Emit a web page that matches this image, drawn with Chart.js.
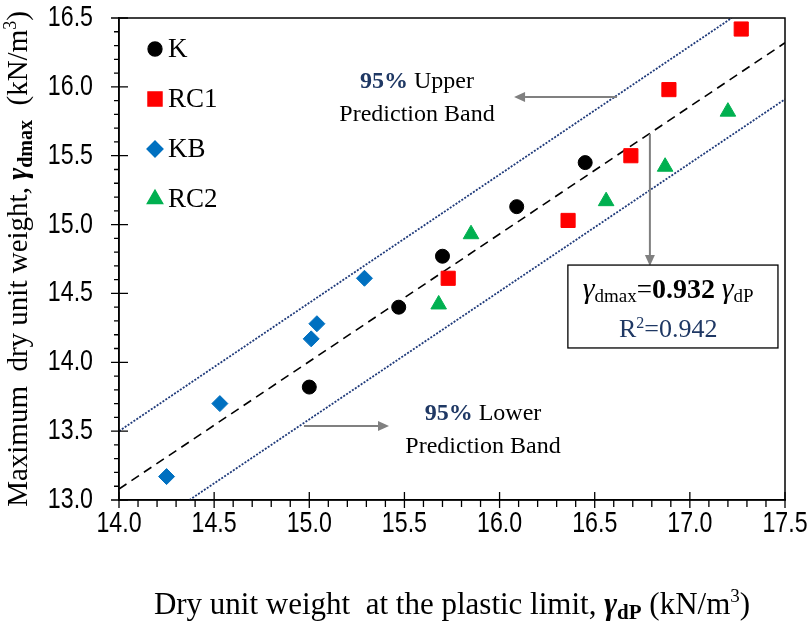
<!DOCTYPE html>
<html>
<head>
<meta charset="utf-8">
<script src="https://cdn.jsdelivr.net/npm/chart.js@4.4.0/dist/chart.umd.min.js"></script>
<style>
html, body { margin: 0; padding: 0; background: #fff; }
</style>
</head>
<body>
<canvas id="myChart" width="810" height="622"></canvas>
<script>
// measured points (kN/m3)
var xK   = [15.00, 15.47, 15.70, 16.09, 16.45];
var yK   = [13.82, 14.40, 14.77, 15.13, 15.45];
var xRC1 = [15.73, 16.36, 16.69, 16.89, 17.27];
var yRC1 = [14.61, 15.03, 15.50, 15.98, 16.42];
var xKB  = [14.25, 14.53, 15.01, 15.04, 15.29];
var yKB  = [13.17, 13.70, 14.17, 14.28, 14.61];
var xRC2 = [15.68, 15.85, 16.56, 16.87, 17.20];
var yRC2 = [14.42, 14.93, 15.17, 15.42, 15.82];

// fit line and 95% prediction bands (end points)
var xFit   = [14.00, 17.50];
var yFit   = [13.08, 16.32];
var xUpper = [14.00, 17.22];
var yUpper = [13.50, 16.50];
var xLower = [14.37, 17.50];
var yLower = [13.00, 15.91];

var xMin = 14.0, xMax = 17.5;
var yMin = 13.0, yMax = 16.5;

var SERIF = '"Liberation Serif", "Times New Roman", serif';
var SANS = '"Liberation Sans", Arial, sans-serif';
var NAVY = '#1F3864';

function pts(xs, ys) {
	var out = [];
	for (var i = 0; i < xs.length; i++) out.push({x: xs[i], y: ys[i]});
	return out;
}

function drawRuns(c, runs, cx, by) {
	var total = 0, i;
	for (i = 0; i < runs.length; i++) {
		c.font = runs[i].f;
		runs[i].w = c.measureText(runs[i].t).width;
		total += runs[i].w;
	}
	var x = cx - total / 2;
	c.textAlign = 'left';
	c.textBaseline = 'alphabetic';
	for (i = 0; i < runs.length; i++) {
		c.font = runs[i].f;
		c.fillStyle = runs[i].c || '#000';
		c.fillText(runs[i].t, x, by + (runs[i].dy || 0));
		x += runs[i].w;
	}
}

// narrow tick label: Arial squeezed to 80%
function narrowText(c, txt, x, y, align) {
	c.save();
	c.font = '29px ' + SANS;
	c.textAlign = align;
	c.textBaseline = 'middle';
	c.fillStyle = '#000';
	c.translate(x, y);
	c.scale(0.8, 1);
	c.fillText(txt, 0, 0);
	c.restore();
}

function arrow(c, x1, y1, x2, y2) {
	var ang = Math.atan2(y2 - y1, x2 - x1), L = 11, W = 5;
	c.beginPath();
	c.moveTo(x1, y1);
	c.lineTo(x2 - Math.cos(ang) * L, y2 - Math.sin(ang) * L);
	c.stroke();
	c.beginPath();
	c.moveTo(x2, y2);
	c.lineTo(x2 - Math.cos(ang) * L - Math.sin(ang) * W, y2 - Math.sin(ang) * L + Math.cos(ang) * W);
	c.lineTo(x2 - Math.cos(ang) * L + Math.sin(ang) * W, y2 - Math.sin(ang) * L - Math.cos(ang) * W);
	c.closePath();
	c.fill();
}

var decor = {
	id: 'decor',
	afterDraw: function(chart) {
		var c = chart.ctx, a = chart.chartArea;
		var xs = chart.scales.x, ys = chart.scales.y;
		var X = function(v) { return xs.getPixelForValue(v); };
		var Y = function(v) { return ys.getPixelForValue(v); };
		c.save();

		// frame
		c.strokeStyle = '#000';
		c.lineWidth = 1.5;
		c.strokeRect(a.left, a.top, a.right - a.left, a.bottom - a.top);

		// tick marks, 0.1 minor / 0.5 major
		c.lineWidth = 1.3;
		c.beginPath();
		for (var i = 0; i <= 35; i++) {
			var major = (i % 5 === 0);
			var px = X(xMin + i * 0.1);
			c.moveTo(px, a.bottom + (major ? 8 : 7));
			c.lineTo(px, a.bottom - (major ? 8 : 0));
			var py = Y(yMin + i * 0.1);
			c.moveTo(a.left - (major ? 8 : 5), py);
			c.lineTo(a.left + (major ? 9 : 0), py);
		}
		c.stroke();

		// tick labels from the scales' own ticks
		xs.ticks.forEach(function(t) {
			narrowText(c, t.value.toFixed(1), X(t.value), a.bottom + 24, 'center');
		});
		ys.ticks.forEach(function(t) {
			narrowText(c, t.value.toFixed(1), a.left - 26, Y(t.value), 'right');
		});

		// legend
		var sets = chart.data.datasets;
		for (var k = 0; k < 4; k++) {
			var ds = sets[k];
			var ly = a.top + 31 + k * 50;
			c.fillStyle = ds.backgroundColor;
			c.strokeStyle = ds.backgroundColor;
			Chart.helpers.drawPoint(c, {pointStyle: ds.pointStyle, radius: ds.pointRadius, rotation: 0, borderWidth: 1}, a.left + 36, ly);
			c.fillStyle = '#000';
			c.font = '27px ' + SERIF;
			c.textAlign = 'left';
			c.textBaseline = 'middle';
			c.fillText(ds.label, a.left + 49, ly + 1);
		}

		// prediction band notes
		c.strokeStyle = '#808080';
		c.fillStyle = '#808080';
		c.lineWidth = 2;
		arrow(c, X(16.617), Y(15.926), X(16.076), Y(15.926));
		arrow(c, X(14.972), Y(13.537), X(15.419), Y(13.537));
		arrow(c, X(16.790), Y(15.658), X(16.790), Y(14.699));

		var b24 = 'bold 24px ' + SERIF, r24 = '24px ' + SERIF;
		drawRuns(c, [{t: '95%', f: b24, c: NAVY}, {t: ' Upper', f: r24}], X(15.566), Y(15.992));
		drawRuns(c, [{t: 'Prediction Band', f: r24}], X(15.566), Y(15.752));
		drawRuns(c, [{t: '95%', f: b24, c: NAVY}, {t: ' Lower', f: r24}], X(15.913), Y(13.581));
		drawRuns(c, [{t: 'Prediction Band', f: r24}], X(15.913), Y(13.341));

		// equation box
		var bl = X(16.359), br = X(17.463), bt = Y(14.706), bb = Y(14.104);
		c.fillStyle = '#fff';
		c.fillRect(bl, bt, br - bl, bb - bt);
		c.strokeStyle = '#000';
		c.lineWidth = 1.3;
		c.strokeRect(bl, bt, br - bl, bb - bt);
		var gi = 'italic 30px ' + SERIF, sub = '19px ' + SERIF;
		drawRuns(c, [
			{t: '\u03b3', f: gi}, {t: 'dmax', f: sub, dy: 4},
			{t: '=', f: '27px ' + SERIF}, {t: '0.932', f: 'bold 28px ' + SERIF},
			{t: ' ', f: '27px ' + SERIF},
			{t: '\u03b3', f: gi}, {t: 'dP', f: sub, dy: 4}
		], X(16.886), Y(14.467));
		drawRuns(c, [
			{t: 'R', f: '26px ' + SERIF, c: NAVY}, {t: '2', f: '16px ' + SERIF, c: NAVY, dy: -9},
			{t: '=0.942', f: '26px ' + SERIF, c: NAVY}
		], X(16.886), Y(14.183));

		// axis titles
		var r31 = '31px ' + SERIF, bi31 = 'bold italic 31px ' + SERIF, bs31 = 'bold 21px ' + SERIF, sup31 = '19px ' + SERIF;
		drawRuns(c, [
			{t: 'Dry unit weight  at the plastic limit, ', f: r31},
			{t: '\u03b3', f: bi31}, {t: 'dP', f: bs31, dy: 5},
			{t: ' (kN/m', f: r31}, {t: '3', f: sup31, dy: -12}, {t: ')', f: r31}
		], (a.left + a.right) / 2, 614);

		var r29 = '29px ' + SERIF, bi29 = 'bold italic 29px ' + SERIF, bs = 'bold 20px ' + SERIF, sup = '18px ' + SERIF;
		c.translate(27, (a.top + a.bottom) / 2);
		c.rotate(-Math.PI / 2);
		drawRuns(c, [
			{t: 'Maximum  dry unit weight, ', f: r29},
			{t: '\u03b3', f: bi29}, {t: 'dmax', f: bs, dy: 5},
			{t: '  (kN/m', f: r29}, {t: '3', f: sup, dy: -11}, {t: ')', f: r29}
		], 0, 0);
		c.restore();
	}
};

var ctx = document.getElementById('myChart').getContext('2d');
var myChart = new Chart(ctx, {
	type: 'scatter',
	data: {
		datasets: [{
			label: 'K',
			data: pts(xK, yK),
			pointStyle: 'circle',
			pointRadius: 7,
			backgroundColor: '#000000',
			borderColor: '#000000',
			borderWidth: 1
		}, {
			label: 'RC1',
			data: pts(xRC1, yRC1),
			pointStyle: 'rect',
			pointRadius: 10,
			backgroundColor: '#FF0000',
			borderColor: '#FF0000',
			borderWidth: 1
		}, {
			label: 'KB',
			data: pts(xKB, yKB),
			pointStyle: 'rectRot',
			pointRadius: 8,
			backgroundColor: '#0070C0',
			borderColor: '#0070C0',
			borderWidth: 1
		}, {
			label: 'RC2',
			data: pts(xRC2, yRC2),
			pointStyle: 'triangle',
			pointRadius: 9,
			backgroundColor: '#00B050',
			borderColor: '#00B050',
			borderWidth: 1
		}, {
			label: 'fit',
			data: pts(xFit, yFit),
			showLine: true,
			pointRadius: 0,
			borderColor: '#000000',
			borderWidth: 1.6,
			borderDash: [9, 6]
		}, {
			label: 'upper',
			data: pts(xUpper, yUpper),
			showLine: true,
			pointRadius: 0,
			borderColor: '#1F3A7A',
			borderWidth: 1.8,
			borderDash: [2, 1.5]
		}, {
			label: 'lower',
			data: pts(xLower, yLower),
			showLine: true,
			pointRadius: 0,
			borderColor: '#1F3A7A',
			borderWidth: 1.8,
			borderDash: [2, 1.5]
		}]
	},
	options: {
		responsive: false,
		animation: false,
		layout: {padding: {top: 18, right: 25, left: 0, bottom: 0}},
		plugins: {
			legend: {display: false},
			tooltip: {enabled: false}
		},
		scales: {
			x: {
				type: 'linear',
				min: xMin,
				max: xMax,
				afterFit: function(s) { s.height = 122; },
				grid: {display: false, drawTicks: false},
				border: {display: true, color: '#000', width: 1.5},
				ticks: {stepSize: 0.5, display: false}
			},
			y: {
				type: 'linear',
				min: yMin,
				max: yMax,
				afterFit: function(s) { s.width = 119; },
				grid: {display: false, drawTicks: false},
				border: {display: true, color: '#000', width: 1.5},
				ticks: {stepSize: 0.5, display: false}
			}
		}
	},
	plugins: [decor]
});
</script>
</body>
</html>
